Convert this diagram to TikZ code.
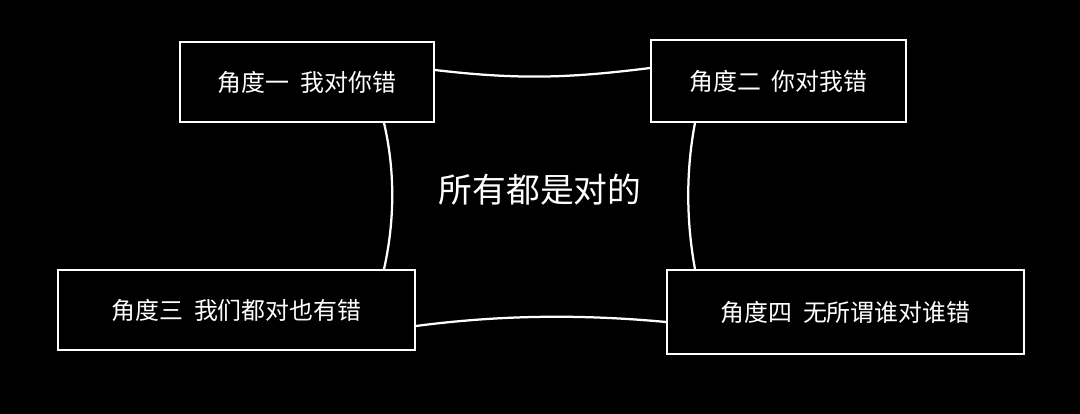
\documentclass[tikz,border=0pt]{standalone}
\usepackage{fontspec}
\newfontfamily\cjk{Noto Sans CJK SC}
\begin{document}
\begin{tikzpicture}[x=0.025cm,y=-0.025cm,
  box/.style={draw=white,line width=1.2pt,fill=black,text=white,font=\cjk\fontsize{17}{20}\selectfont,inner sep=0pt},
  link/.style={draw=white,line width=1.6pt}]
\fill[black] (0,0) rectangle (1080,414);
\useasboundingbox (0,0) rectangle (1080,414);
\node[box,minimum width=254*0.025cm,minimum height=80*0.025cm] (a) at (307,82) {角度一\ \ 我对你错};
\node[box,minimum width=255*0.025cm,minimum height=82*0.025cm] (b) at (778.5,81) {角度二\ \ 你对我错};
\node[box,minimum width=357*0.025cm,minimum height=80*0.025cm] (c) at (236.5,310) {角度三\ \ 我们都对也有错};
\node[box,minimum width=357*0.025cm,minimum height=84*0.025cm] (d) at (845.5,312) {角度四\ \ 无所谓谁对谁错};
\node[text=white,font=\cjk\fontsize{24}{28}\selectfont] (m) at (540,190) {所有都是对的};
\coordinate (a1) at (a.east |- 0,70);
\coordinate (b1) at (b.west |- 0,68);
\draw[link] (a1) .. controls (520,80) and (570,78) .. (b1);
\coordinate (a2) at (384,0 |- a.south);
\coordinate (c2) at (384,0 |- c.north);
\draw[link] (a2) .. controls (395,170) and (395,220) .. (c2);
\coordinate (b3) at (695,0 |- b.south);
\coordinate (d3) at (695,0 |- d.north);
\draw[link] (b3) .. controls (686,170) and (686,220) .. (d3);
\coordinate (c4) at (c.east |- 0,326);
\coordinate (d4) at (d.west |- 0,322);
\draw[link] (c4) .. controls (500,315) and (580,314) .. (d4);
\end{tikzpicture}
\end{document}
